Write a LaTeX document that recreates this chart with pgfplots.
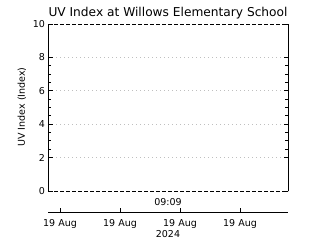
\documentclass[border=0pt]{standalone}
\usepackage{pgfplots}
\pgfplotsset{compat=1.18}
\usepackage{fontspec}
\setmainfont{DejaVu Sans}
\begin{document}
\begin{tikzpicture}[x=1pt,y=1pt]
\path[use as bounding box] (0,0) rectangle (320,240);
\begin{axis}[
  at={(48pt,49pt)}, anchor=south west,
  scale only axis, width=240pt, height=167pt,
  xmin=0, xmax=240, ymin=0, ymax=10,
  xtick=\empty,
  ytick={2,4,6,8}, extra y ticks={0,10}, extra y tick style={grid=none},
  minor y tick num=3,
  ymajorgrids, grid style={gray!50, line width=0.6pt, dash pattern=on 0.8pt off 3.2pt},
  tick align=inside, major tick length=4.5pt, minor tick length=3pt,
  tick style={black, line width=0.8pt},
  separate axis lines,
  axis line style={black, line width=0.8pt},
  x axis line style={dash pattern=on 4pt off 2pt},
  yticklabel pos=left,
  /pgf/number format/assume math mode=true,
  yticklabel style={font=\fontsize{9.5}{9.5}\selectfont, xshift=0.5pt},
]
\end{axis}
\begin{axis}[
  at={(48pt,28pt)}, anchor=south west,
  scale only axis, width=240pt, height=10pt,
  xmin=0, xmax=240, ymin=0, ymax=1,
  axis x line*=bottom, axis y line=none,
  x axis line style={-, black, line width=0.8pt},
  xtick={12,72,132,192},
  xticklabels={19 Aug,19 Aug,19 Aug,19 Aug},
  tick align=inside, major tick length=3.5pt,
  tick style={black, line width=0.8pt},
  xticklabel style={font=\fontsize{9.5}{9.5}\selectfont, yshift=-4pt},
]
\end{axis}
\node[font=\fontsize{12.2}{12.2}\selectfont] at (168,227) {UV Index at Willows Elementary School};
\node[font=\fontsize{9.5}{9.5}\selectfont, rotate=90] at (22,133) {UV Index (Index)};
\node[font=\fontsize{9.5}{9.5}\selectfont] at (168,38) {09:09};
\node[font=\fontsize{9.5}{9.5}\selectfont] at (168,6) {2024};
\end{tikzpicture}
\end{document}
